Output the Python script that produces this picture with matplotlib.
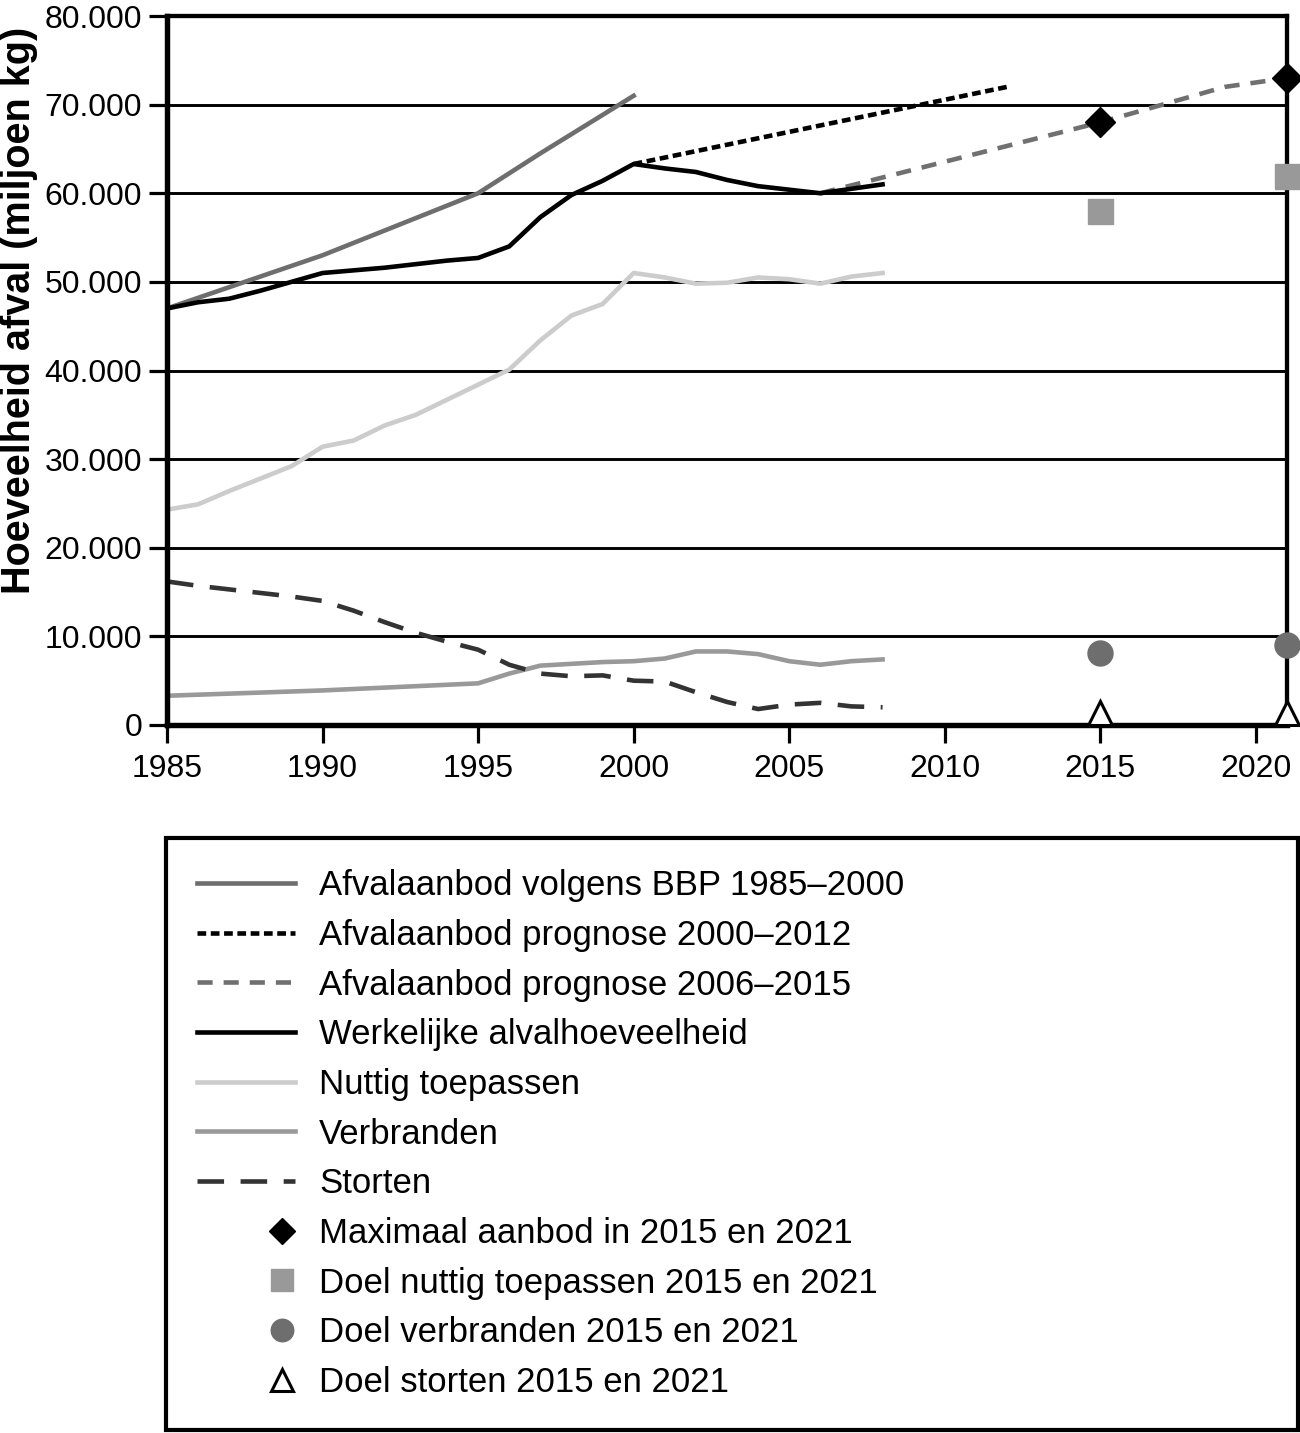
import matplotlib
matplotlib.use("Agg")
import matplotlib.pyplot as plt
from matplotlib.legend_handler import HandlerLine2D
from matplotlib.ticker import FuncFormatter

plt.rcParams['font.family'] = ['Liberation Sans', 'DejaVu Sans']

# afvalaanbod volgens BBP
bbp_years = [1985, 1990, 1995, 1997, 2000]
bbp_vals = [47000, 53000, 60000, 64500, 71000]

# prognose 2000-2012
prog1_years = [2000, 2012]
prog1_vals = [63300, 72000]

# prognose 2006-2015 (doorgetrokken tot 2021)
prog2_years = [2006, 2015, 2019, 2021]
prog2_vals = [60000, 68000, 72000, 73000]

years = list(range(1985, 2009))
werkelijk = [47000, 47700, 48100, 49000, 50000, 51000, 51300, 51600, 52000, 52400,
             52700, 54000, 57300, 59800, 61400, 63300, 62800, 62400, 61500, 60800,
             60400, 60000, 60500, 61000]
nuttig = [24300, 24900, 26400, 27800, 29200, 31400, 32100, 33800, 35000, 36700,
          38400, 40100, 43400, 46200, 47500, 51000, 50500, 49800, 49900, 50500,
          50300, 49800, 50600, 51000]
verbranden = [3300, 3420, 3540, 3660, 3780, 3900, 4060, 4220, 4380, 4540,
              4700, 5800, 6700, 6900, 7100, 7200, 7500, 8300, 8300, 8000,
              7200, 6800, 7200, 7400]
storten = [16200, 15700, 15300, 14900, 14500, 14000, 12900, 11600, 10400, 9400,
           8500, 6800, 5800, 5500, 5600, 5000, 4900, 3700, 2600, 1800,
           2300, 2500, 2100, 2000]

doel_years = [2015, 2021]
max_aanbod = [68000, 73000]
doel_nuttig = [58000, 62000]
doel_verbranden = [8100, 9000]
doel_storten = [1400, 1400]

fig = plt.figure(figsize=(13, 14.33), dpi=100)
ax = fig.add_axes([167 / 1300, 1 - 725 / 1433, (1287 - 167) / 1300, (725 - 16) / 1433])

lw = 3.3
l1, = ax.plot(bbp_years, bbp_vals, color='#6e6e6e', lw=lw)
l2, = ax.plot(prog1_years, prog1_vals, color='black', lw=lw, linestyle=(0, (1.9, 1.0)))
l3, = ax.plot(prog2_years, prog2_vals, color='#707070', lw=lw, linestyle=(0, (3.3, 2.4)))
l4, = ax.plot(years, werkelijk, color='black', lw=lw)
l5, = ax.plot(years, nuttig, color='#cccccc', lw=lw)
l6, = ax.plot(years, verbranden, color='#999999', lw=lw)
l7, = ax.plot(years, storten, color='#333333', lw=lw, linestyle=(0, (5.8, 3.6)))

m1, = ax.plot(doel_years, max_aanbod, 'D', color='black', ms=15, ls='none', clip_on=False, zorder=5)
m2, = ax.plot(doel_years, doel_nuttig, 's', color='#999999', ms=18, ls='none', clip_on=False, zorder=5)
m3, = ax.plot(doel_years, doel_verbranden, 'o', color='#6e6e6e', ms=18, ls='none', clip_on=False, zorder=5)
m4, = ax.plot(doel_years, doel_storten, '^', mfc='white', mec='black', mew=2.2, ms=17, ls='none',
              clip_on=False, zorder=5)

ax.set_xlim(1985, 2021)
ax.set_ylim(0, 80000)
ax.set_xticks(range(1985, 2021, 5))
ax.set_yticks(range(0, 80001, 10000))
ax.yaxis.set_major_formatter(FuncFormatter(lambda v, p: '0' if v == 0 else f'{int(v):,}'.replace(',', '.')))
ax.grid(axis='y', color='black', lw=2.1)
ax.set_axisbelow(True)
for s in ['left', 'bottom']:
    ax.spines[s].set_linewidth(3.9)
for s in ['top', 'right']:
    ax.spines[s].set_linewidth(3.1)
ax.tick_params(axis='x', length=13, width=2.3, labelsize=23, pad=8)
ax.tick_params(axis='y', length=13, width=2.3, labelsize=23, pad=5)
ax.set_ylabel('Hoeveelheid afval (miljoen kg)', fontsize=28.5, fontweight='bold')
ax.yaxis.set_label_coords(-0.1155, 0.585)


class RightMarker(HandlerLine2D):
    # marker rechts in het legendavak i.p.v. in het midden
    def get_xdata(self, legend, xdescent, ydescent, width, height, fontsize):
        x = -xdescent + 0.87 * width
        return [x], [x]


handles = [l1, l2, l3, l4, l5, l6, l7, m1, m2, m3, m4]
labels = ['Afvalaanbod volgens BBP 1985\u20132000',
          'Afvalaanbod prognose 2000\u20132012',
          'Afvalaanbod prognose 2006\u20132015',
          'Werkelijke alvalhoeveelheid',
          'Nuttig toepassen',
          'Verbranden',
          'Storten',
          'Maximaal aanbod in 2015 en 2021',
          'Doel nuttig toepassen 2015 en 2021',
          'Doel verbranden 2015 en 2021',
          'Doel storten 2015 en 2021']
hmap = {h: RightMarker(numpoints=2) for h in [m1, m2, m3, m4]}
leg = fig.legend(handles, labels, loc='upper left',
                 bbox_to_anchor=(166 / 1300, 1 - 838 / 1433, (1298 - 166) / 1300, 0.0),
                 mode='expand', borderaxespad=0, fontsize=25, handlelength=2.82,
                 handletextpad=0.69, labelspacing=0.48, borderpad=0.9,
                 frameon=True, fancybox=False, edgecolor='black', framealpha=1,
                 handler_map=hmap, markerscale=0.9)
leg.get_frame().set_linewidth(3.0)

fig.savefig('out.png', dpi=100)
